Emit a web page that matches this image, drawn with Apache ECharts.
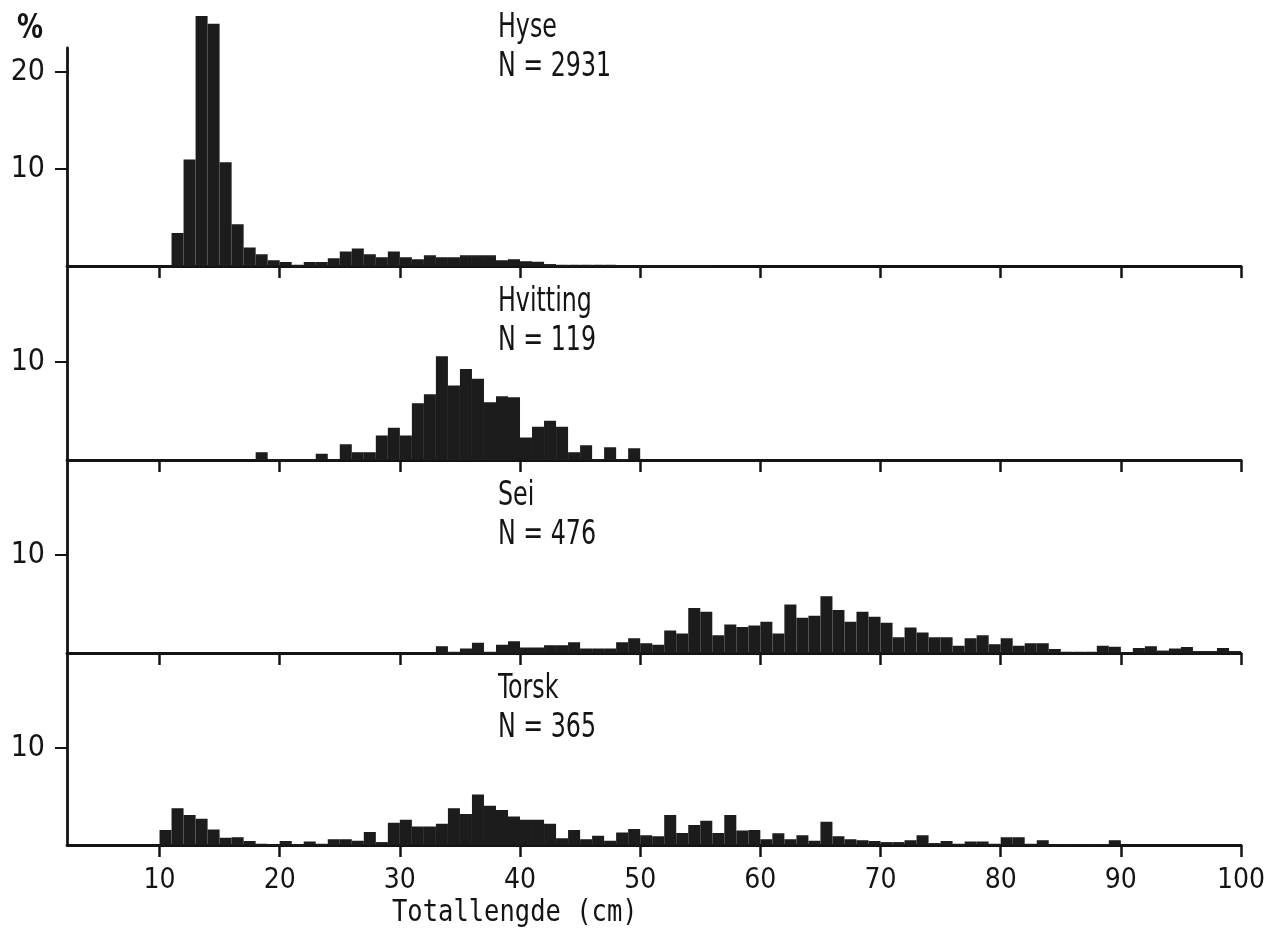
<!DOCTYPE html>
<html>
<head>
<meta charset="utf-8">
<title>Totallengde</title>
<script src="https://cdn.jsdelivr.net/npm/echarts@6/dist/echarts.min.js"></script>
<style>
	html, body { margin: 0; padding: 0; background: #fff; }
	#chart { width: 1264px; height: 937px; }
</style>
</head>
<body>
<div id="chart"></div>
<script>
// tick labels on the length axis (cm)
const lengthTicks = [10, 20, 30, 40, 50, 60, 70, 80, 90, 100];

// one-cm length classes, % of fish; each list starts at the given cm
const hyseStart = 11;
const hyseValues = [3.4, 11.0, 25.8, 25.0, 10.7, 4.3, 1.9, 1.2, 0.6, 0.4,
	0.1, 0.4, 0.4, 0.8, 1.5, 1.8, 1.2, 0.9, 1.5, 0.9,
	0.7, 1.1, 0.9, 0.9, 1.1, 1.1, 1.1, 0.6, 0.7, 0.5,
	0.45, 0.2, 0.1, 0.1, 0.1, 0.1, 0.1, 0.05, 0.05, 0.05,
	0.05, 0.05, 0.05, 0.05, 0.05];

const hvittingStart = 18;
const hvittingValues = [0.8, 0, 0, 0, 0, 0.65, 0, 1.6, 0.8, 0.8,
	2.5, 3.3, 2.5, 5.8, 6.7, 10.6, 7.6, 9.3, 8.3, 5.9,
	6.5, 6.4, 2.3, 3.4, 4.0, 3.4, 0.8, 1.5, 0, 1.3,
	0, 1.2];

const seiStart = 33;
const seiValues = [0.7, 0.1, 0.45, 1.05, 0.1, 0.85, 1.2, 0.55, 0.55, 0.8,
	0.8, 1.1, 0.45, 0.45, 0.45, 1.1, 1.5, 1.0, 0.85, 2.3,
	2.0, 4.6, 4.2, 1.8, 2.9, 2.65, 2.8, 3.2, 2.0, 4.95,
	3.6, 3.8, 5.8, 4.4, 3.2, 4.2, 3.7, 3.1, 1.6, 2.6,
	2.1, 1.6, 1.6, 0.75, 1.5, 1.8, 0.9, 1.5, 0.75, 1.0,
	1.0, 0.4, 0.1, 0.1, 0.1, 0.75, 0.65, 0, 0.5, 0.7,
	0.25, 0.45, 0.6, 0.2, 0.2, 0.5, 0.2];

const torskStart = 10;
const torskValues = [1.55, 3.8, 3.1, 2.7, 1.6, 0.75, 0.8, 0.4, 0.1, 0,
	0.4, 0, 0.35, 0.1, 0.6, 0.6, 0.45, 1.35, 0.3, 2.3,
	2.6, 1.9, 1.9, 2.2, 3.8, 3.2, 5.2, 4.05, 3.6, 2.95,
	2.6, 2.6, 2.2, 0.7, 1.55, 0.6, 0.95, 0.45, 1.3, 1.65,
	1.0, 0.9, 3.1, 1.25, 2.05, 2.5, 1.25, 3.1, 1.5, 1.55,
	0.6, 1.2, 0.6, 1.0, 0.45, 2.4, 0.9, 0.6, 0.5, 0.4,
	0.3, 0.3, 0.5, 1.0, 0.2, 0.4, 0.1, 0.35, 0.35, 0.1,
	0.8, 0.8, 0.1, 0.5, 0, 0, 0, 0, 0, 0.5];

const speciesNames = ['Hyse', 'Hvitting', 'Sei', 'Torsk'];
const speciesN = [2931, 119, 476, 365];
const speciesStarts = [hyseStart, hvittingStart, seiStart, torskStart];
const speciesValues = [hyseValues, hvittingValues, seiValues, torskValues];
const yTickLabels = [[10, 20], [10], [10], [10]];

// layout of the four stacked panels
const panelTop = [48, 266, 460, 653];
const panelHeight = [218, 194, 193, 192];
const panelMax = [22.5, 19.8, 19.7, 19.8];
const titleTop = [9, 283, 477, 670];

const ink = '#141414';
const barInk = '#1c1c1c';
const sans = "'DejaVu Sans Condensed', 'DejaVu Sans', sans-serif";

let chart = echarts.init(document.getElementById('chart'));

let grids = [], xAxes = [], yAxes = [], series = [];

// lettering is a bit narrower than any installed face, so squeeze it
let texts = [{
	type: 'text', x: 17, y: 12, scaleX: 0.85,
	style: { text: '%', font: 'bold 34px ' + sans, fill: ink }
}];

speciesNames.forEach((name, i) => {
	grids.push({
		left: 67, right: 23, top: panelTop[i], height: panelHeight[i],
		outerBoundsMode: 'none'
	});

	xAxes.push({
		gridIndex: i,
		type: 'value',
		min: 2.3,
		max: 100,
		axisLine: { show: true, lineStyle: { color: ink, width: 2.8 } },
		axisTick: { show: true, customValues: lengthTicks, length: 12, lineStyle: { color: ink, width: 2.5 } },
		axisLabel: {
			show: i === speciesNames.length - 1,
			customValues: lengthTicks,
			margin: 22,
			fontFamily: sans,
			fontSize: 28,
			color: ink
		},
		splitLine: { show: false }
	});

	yAxes.push({
		gridIndex: i,
		type: 'value',
		min: 0,
		max: panelMax[i],
		axisLine: { show: true, lineStyle: { color: ink, width: 2.8 } },
		axisTick: { show: true, customValues: yTickLabels[i], length: 12, lineStyle: { color: ink, width: 2 } },
		axisLabel: {
			customValues: yTickLabels[i],
			margin: 22,
			fontFamily: sans,
			fontSize: 30,
			color: ink
		},
		splitLine: { show: false }
	});

	series.push({
		name: name,
		type: 'bar',
		xAxisIndex: i,
		yAxisIndex: i,
		barWidth: '100%',
		clip: false,
		silent: true,
		itemStyle: { color: barInk, borderColor: barInk, borderWidth: 1.5 },
		data: speciesValues[i].map((v, j) => [speciesStarts[i] + j + 0.5, v])
	});

	texts.push({
		type: 'text',
		x: 498,
		y: titleTop[i],
		scaleX: 0.8,
		style: {
			text: name + '\nN = ' + speciesN[i],
			font: '33px ' + sans,
			lineHeight: 39,
			fill: ink
		}
	});
});

// axis name under the bottom panel
texts.push({
	type: 'text',
	x: 392,
	y: 898,
	scaleX: 0.85,
	style: { text: 'Totallengde (cm)', font: "30px 'DejaVu Sans Mono', monospace", fill: ink }
});

chart.setOption({
	animation: false,
	backgroundColor: '#fff',
	graphic: texts,
	grid: grids,
	xAxis: xAxes,
	yAxis: yAxes,
	series: series
});
</script>
</body>
</html>
